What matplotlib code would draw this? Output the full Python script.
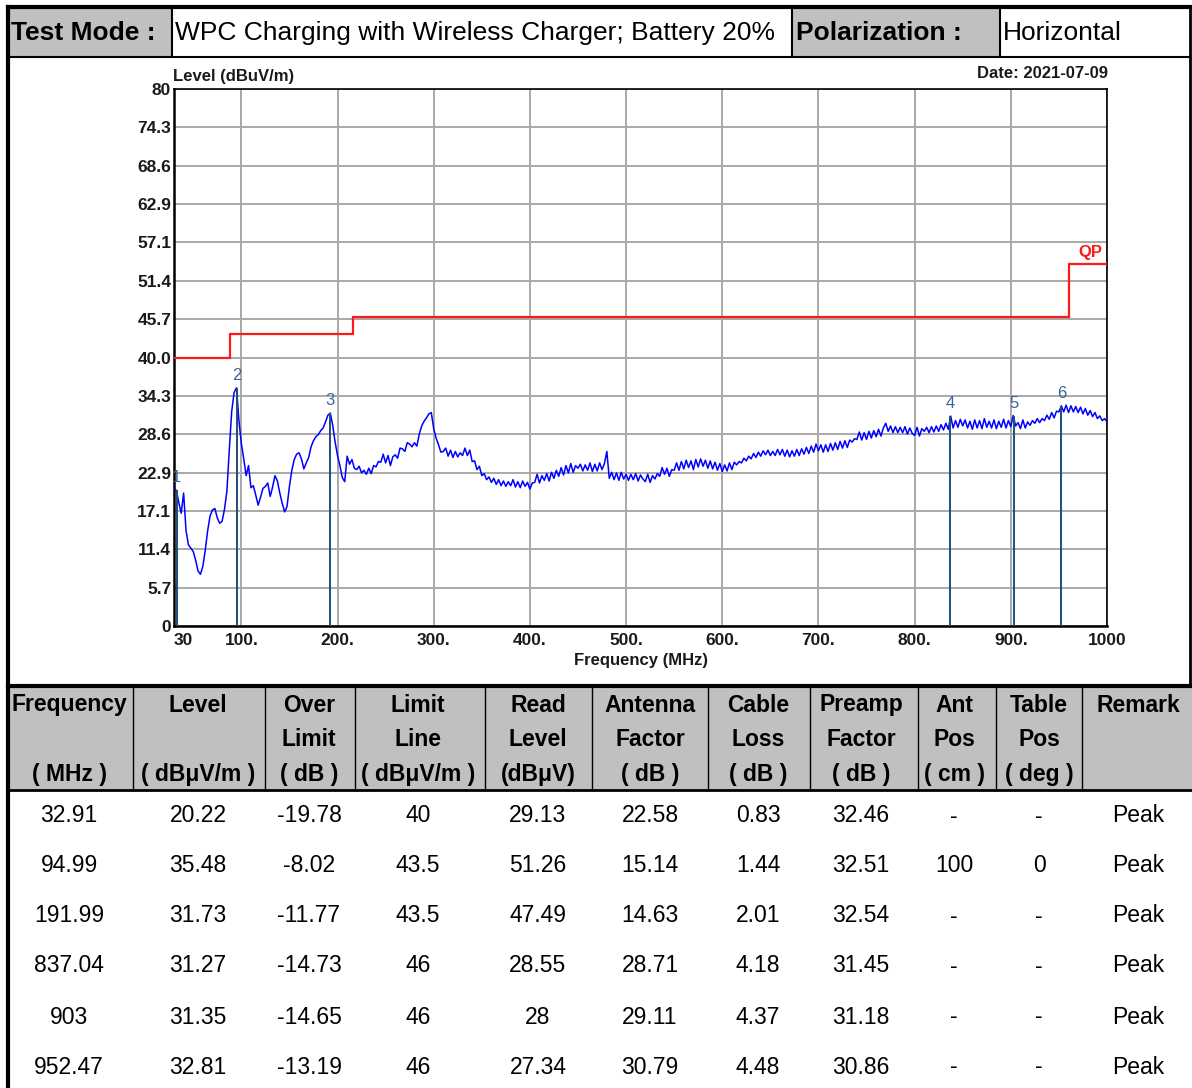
import numpy as np
import matplotlib.pyplot as plt
from matplotlib.patches import Rectangle

plt.rcParams['font.family'] = ['Liberation Sans', 'DejaVu Sans']

W, H = 1192, 1088

# header info
test_mode = 'WPC Charging with Wireless Charger; Battery 20%'
polarization = 'Horizontal'
date_text = 'Date: 2021-07-09'

sweep_start = 30.0
sweep_step = 2.5
level = [
    20.5, 20.2, 18.4, 16.8, 19.8, 14.2, 12.1, 11.6, 11.1, 9.8,
    8.2, 7.7, 8.9, 11.3, 14.2, 16.4, 17.3, 17.5, 16.1, 15.3,
    15.6, 17.4, 20.1, 26.3, 32.0, 34.8, 35.48, 30.6, 27.2, 24.9,
    22.4, 23.9, 20.6, 20.9, 19.5, 18.0, 19.2, 20.5, 20.8, 21.3,
    19.3, 20.7, 22.4, 21.6, 19.8, 18.3, 17.0, 17.8, 20.8, 23.2,
    24.8, 25.6, 25.8, 24.9, 23.4, 24.3, 25.1, 26.7, 27.6, 28.2,
    28.5, 29.1, 29.5, 30.4, 31.4, 31.73, 29.9, 27.4, 25.4, 23.9,
    22.1, 21.5, 25.3, 24.1, 24.8, 23.5, 23.3, 23.8, 22.8, 23.2,
    22.6, 23.5, 22.7, 23.9, 23.7, 24.5, 24.4, 25.6, 24.3, 25.4,
    23.9, 25.2, 25.5, 25.0, 26.5, 26.4, 26.0, 27.3, 27.1, 26.7,
    27.3, 26.8, 28.6, 29.8, 30.5, 31.0, 31.6, 31.8, 29.4, 28.0,
    27.0, 25.9, 26.0, 26.5, 25.3, 26.2, 25.1, 26.0, 25.2, 25.8,
    25.4, 26.5, 25.4, 26.2, 24.5, 24.6, 23.3, 23.8, 22.4, 22.7,
    21.8, 22.2, 21.4, 22.0, 21.1, 21.8, 20.9, 21.6, 20.8, 21.5,
    20.9, 21.8, 20.7, 21.5, 20.6, 21.6, 20.8, 21.4, 20.4, 21.3,
    21.4, 22.6, 21.3, 22.4, 21.7, 22.7, 21.6, 22.9, 22.0, 23.2,
    22.3, 23.6, 22.5, 23.9, 22.8, 24.2, 22.9, 23.9, 23.5, 24.1,
    23.1, 24.0, 23.2, 24.3, 23.0, 24.1, 23.1, 24.3, 23.3, 24.2,
    26.0, 22.0, 22.9, 21.8, 22.8, 21.7, 22.9, 21.9, 22.6, 21.7,
    22.6, 21.8, 22.7, 21.6, 22.5, 21.9, 21.5, 22.6, 21.4, 22.4,
    21.9, 22.7, 22.3, 23.6, 22.6, 23.5, 22.3, 23.3, 23.2, 24.3,
    23.2, 24.5, 23.4, 24.7, 23.6, 24.6, 23.3, 24.8, 23.7, 24.9,
    23.8, 24.7, 23.5, 24.6, 23.4, 24.4, 23.2, 24.2, 23.0, 24.0,
    23.1, 24.3, 23.3, 24.4, 24.0, 24.5, 24.3, 25.0, 24.6, 25.3,
    24.9, 25.7, 25.1, 25.9, 25.3, 26.1, 25.5, 26.2, 25.4, 26.0,
    25.4, 26.3, 25.5, 26.3, 25.3, 26.2, 25.2, 26.1, 25.3, 26.3,
    25.4, 26.4, 25.6, 26.6, 25.7, 26.8, 25.9, 27.1, 26.1, 27.0,
    25.9, 27.0, 26.0, 27.2, 26.2, 27.3, 26.3, 27.5, 26.5, 27.6,
    26.6, 27.7, 27.4, 27.9, 27.8, 28.9, 27.7, 28.8, 27.8, 29.0,
    28.0, 29.1, 28.2, 29.3, 28.3, 29.5, 30.2, 29.0, 29.8, 28.8,
    29.7, 28.8, 29.6, 28.8, 29.7, 28.6, 29.5, 28.7, 28.4, 29.6,
    28.3, 29.4, 29.0, 29.6, 28.8, 29.7, 28.9, 29.8, 29.0, 30.0,
    29.2, 30.2, 29.3, 31.27, 29.5, 30.6, 29.6, 30.8, 29.8, 30.7,
    29.5, 30.5, 29.3, 30.7, 29.5, 30.6, 29.4, 30.9, 29.6, 30.5,
    29.5, 30.7, 29.4, 30.5, 29.6, 30.8, 29.5, 30.6, 29.7, 31.35,
    29.8, 30.3, 29.4, 30.7, 29.5, 30.4, 29.9, 30.6, 30.2, 30.9,
    30.3, 30.9, 30.6, 31.4, 30.8, 31.8, 31.0, 32.0, 31.9, 32.81,
    31.9, 32.9, 31.8, 32.8, 31.9, 32.7, 31.8, 32.6, 31.6, 32.4,
    31.4, 32.1, 31.2, 31.8, 30.9, 31.3, 30.6, 30.9, 30.4,
]

# QP limit line (step edges in MHz, limit in dBuV/m)
limit_edges = [30, 88, 216, 960, 1000]
limit_vals = [40, 43.5, 46, 54]

y_tick_labels = ['0', '5.7', '11.4', '17.1', '22.9', '28.6', '34.3', '40.0',
                 '45.7', '51.4', '57.1', '62.9', '68.6', '74.3', '80']
x_ticks = [30, 100, 200, 300, 400, 500, 600, 700, 800, 900, 1000]
x_tick_labels = ['30', '100.', '200.', '300.', '400.', '500.', '600.',
                 '700.', '800.', '900.', '1000']

# marker table
marker_freq = ['32.91', '94.99', '191.99', '837.04', '903', '952.47']
marker_level = ['20.22', '35.48', '31.73', '31.27', '31.35', '32.81']
over_limit = ['-19.78', '-8.02', '-11.77', '-14.73', '-14.65', '-13.19']
limit_line = ['40', '43.5', '43.5', '46', '46', '46']
read_level = ['29.13', '51.26', '47.49', '28.55', '28', '27.34']
antenna_factor = ['22.58', '15.14', '14.63', '28.71', '29.11', '30.79']
cable_loss = ['0.83', '1.44', '2.01', '4.18', '4.37', '4.48']
preamp_factor = ['32.46', '32.51', '32.54', '31.45', '31.18', '30.86']
ant_pos = ['-', '100', '-', '-', '-', '-']
table_pos = ['-', '0', '-', '-', '-', '-']
remark = ['Peak'] * 6

col_headers = [
    ('Frequency', '', '( MHz )'),
    ('Level', '', '( dBμV/m )'),
    ('Over', 'Limit', '( dB )'),
    ('Limit', 'Line', '( dBμV/m )'),
    ('Read', 'Level', '(dBμV)'),
    ('Antenna', 'Factor', '( dB )'),
    ('Cable', 'Loss', '( dB )'),
    ('Preamp', 'Factor', '( dB )'),
    ('Ant', 'Pos', '( cm )'),
    ('Table', 'Pos', '( deg )'),
    ('Remark', '', ''),
]

GRAY = '#c0c0c0'
TXT = '#1a1a1a'

fig = plt.figure(figsize=(W / 100, H / 100), dpi=100)
fig.patch.set_facecolor('white')

# background axes in pixel coordinates
bg = fig.add_axes([0, 0, 1, 1])
bg.set_xlim(0, W)
bg.set_ylim(H, 0)
bg.axis('off')

# top info row
bg.add_patch(Rectangle((8, 7), 164, 50, facecolor=GRAY, edgecolor='none'))
bg.add_patch(Rectangle((792, 7), 208, 50, facecolor=GRAY, edgecolor='none'))
bg.text(11, 33, 'Test Mode :', fontsize=19, fontweight='bold', va='center', color='black')
bg.text(175, 33, test_mode, fontsize=19, va='center', color='black')
bg.text(796, 33, 'Polarization :', fontsize=19, fontweight='bold', va='center', color='black')
bg.text(1003, 33, polarization, fontsize=19, va='center', color='black')
for x in [172, 792, 1000]:
    bg.plot([x, x], [7, 57], color='black', lw=1.5)
bg.plot([8, 1190], [57, 57], color='black', lw=1.5)

# table header
col_edges = [8, 133, 265, 355, 485, 592, 708, 810, 918, 996, 1082, 1192]
col_centers = [69, 198, 309, 418, 538, 650, 758, 861, 954, 1039, 1138]
bg.add_patch(Rectangle((8, 686), W - 8, 104, facecolor=GRAY, edgecolor='none'))
for x in col_edges[1:-1]:
    bg.plot([x, x], [686, 790], color='black', lw=1.0)
for cx, lines in zip(col_centers, col_headers):
    for ty, t in zip([705, 740, 774], lines):
        bg.text(cx, ty, t, fontsize=16.5, fontweight='bold', ha='center', va='center', color='black')

# table rows
columns = [marker_freq, marker_level, over_limit, limit_line, read_level,
           antenna_factor, cable_loss, preamp_factor, ant_pos, table_pos, remark]
row_y = [816, 866, 916, 966, 1017, 1067]
for cx, col in zip(col_centers, columns):
    for ry, val in zip(row_y, col):
        bg.text(cx, ry, val, fontsize=16.5, ha='center', va='center', color='black')

# outer borders
bg.plot([8, 1190], [7, 7], color='black', lw=3)
bg.plot([8, 8], [7, H], color='black', lw=3)
bg.plot([1190, 1190], [7, 686], color='black', lw=2)
bg.plot([8, W], [686, 686], color='black', lw=3)
bg.plot([8, W], [790, 790], color='black', lw=2)

# chart
ax = fig.add_axes([174 / W, 1 - 626 / H, (1107 - 174) / W, (626 - 89) / H])
freq = sweep_start + sweep_step * np.arange(len(level))

ax.set_xlim(30, 1000)
ax.set_ylim(0, 80)
ax.set_yticks(np.arange(15) * 80 / 14)
ax.set_yticklabels(y_tick_labels)
ax.set_xticks(x_ticks)
ax.set_xticklabels(x_tick_labels)
ax.tick_params(length=0, labelsize=12.5, colors=TXT)
ax.tick_params(axis='y', pad=2)
ax.tick_params(axis='x', pad=5)
for lab in ax.get_xticklabels() + ax.get_yticklabels():
    lab.set_fontweight('bold')
ax.get_xticklabels()[0].set_ha('left')
ax.grid(color='#a8a8a8', lw=1.4)
ax.set_axisbelow(True)
for side in ['left', 'bottom']:
    ax.spines[side].set_linewidth(1.8)
for side in ['top', 'right']:
    ax.spines[side].set_linewidth(1.2)

ax.stairs(limit_vals, limit_edges, baseline=None, color='#ff1a1a', lw=1.6, zorder=3)
ax.annotate('QP', (1000, limit_vals[-1]), xytext=(-12, 8), textcoords='offset points',
            ha='center', va='center', fontsize=12, fontweight='bold', color='#ff1a1a')

ax.plot(freq, level, color='#0000ff', lw=1.1, zorder=4)

mf = [float(v) for v in marker_freq]
ml = [float(v) for v in marker_level]
ax.vlines(mf, 0, ml, color='#1f4e79', lw=1.4, zorder=5)
for i, (f, lv) in enumerate(zip(mf, ml)):
    ax.annotate(str(i + 1), (f, lv), xytext=(0, 9), textcoords='offset points',
                ha='center', va='center', fontsize=12, color='#3c6496')

bg.text(173, 77, 'Level (dBuV/m)', fontsize=12, fontweight='bold', va='center', color=TXT)
bg.text(1108, 74, date_text, fontsize=12, fontweight='bold', va='center', ha='right', color=TXT)
bg.text(641, 661, 'Frequency (MHz)', fontsize=12, fontweight='bold', va='center', ha='center', color=TXT)

fig.savefig('out.png', dpi=100, facecolor='white')
